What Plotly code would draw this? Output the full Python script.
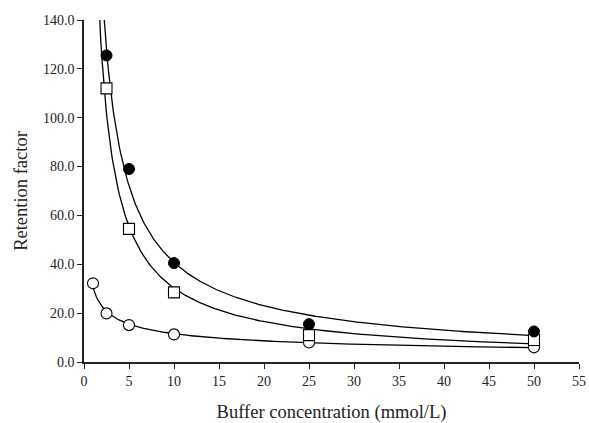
import numpy as np
import plotly.graph_objects as go

# Data
conc_filled = [2.5, 5, 10, 25, 50]
k_filled = [125.5, 79.0, 40.5, 15.5, 12.5]

conc_square = [2.5, 5, 10, 25, 50]
k_square = [112.0, 54.5, 28.5, 11.0, 9.0]

conc_open = [1, 2.5, 5, 10, 25, 50]
k_open = [32.2, 19.9, 15.1, 11.3, 8.0, 6.0]

x_ticks = [0, 5, 10, 15, 20, 25, 30, 35, 40, 45, 50, 55]
y_ticks = [0, 20, 40, 60, 80, 100, 120, 140]


def power_trend(xs, ys, x_start, x_end):
    """Power-law trendline (least squares in log space), like a spreadsheet trendline."""
    b, ln_a = np.polyfit(np.log(xs), np.log(ys), 1)
    xx = np.linspace(x_start, x_end, 400)
    return xx, np.exp(ln_a) * xx ** b


fig = go.Figure()
line_style = dict(color="black", width=1.3)

for xs, ys in [(conc_filled, k_filled), (conc_square, k_square), (conc_open, k_open)]:
    xx, yy = power_trend(xs, ys, 1.0 if xs is conc_open else 1.5, 50)
    fig.add_trace(go.Scatter(x=xx, y=yy, mode="lines", line=line_style,
                             hoverinfo="skip", showlegend=False))

fig.add_trace(go.Scatter(x=conc_open, y=k_open, mode="markers", showlegend=False,
                         marker=dict(symbol="circle", size=11, color="white",
                                     line=dict(color="black", width=1.1))))
fig.add_trace(go.Scatter(x=conc_square, y=k_square, mode="markers", showlegend=False,
                         marker=dict(symbol="square", size=11, color="white",
                                     line=dict(color="black", width=1.1))))
fig.add_trace(go.Scatter(x=conc_filled, y=k_filled, mode="markers", showlegend=False,
                         marker=dict(symbol="circle", size=11, color="black",
                                     line=dict(color="black", width=1))))

serif = "Liberation Serif"
fig.update_layout(
    width=589, height=423,
    margin=dict(l=84, r=10, t=20, b=61),
    paper_bgcolor="white", plot_bgcolor="white",
    font=dict(family=serif, color="#222", size=14),
    xaxis=dict(range=[0, 55], tickvals=x_ticks, ticks="outside", ticklen=5,
               tickwidth=1.3, tickcolor="#222", showline=True, linecolor="#222",
               linewidth=1.5, showgrid=False, zeroline=False, automargin=False,
               ticklabeloverflow="allow",
               tickfont=dict(family=serif, size=14, color="#222"),
               title=dict(text="Buffer concentration (mmol/L)", standoff=20,
                          font=dict(family=serif, size=18.5, color="#222"))),
    yaxis=dict(range=[0, 140], tickvals=y_ticks, tickformat=".1f", ticks="outside",
               ticklen=5, tickwidth=1.3, tickcolor="#222", showline=True,
               linecolor="#222", linewidth=1.5, showgrid=False, zeroline=False,
               automargin=False, ticklabeloverflow="allow",
               tickfont=dict(family=serif, size=14, color="#222"),
               title=dict(text="Retention factor", standoff=10,
                          font=dict(family=serif, size=18.5, color="#222"))),
)

# remove the default page margin so the 589x423 figure fills the window exactly
fig.write_html(
    "out.html",
    config={"displayModeBar": False},
    post_script="document.body.style.margin='0';"
                "document.documentElement.style.overflow='hidden';",
)
